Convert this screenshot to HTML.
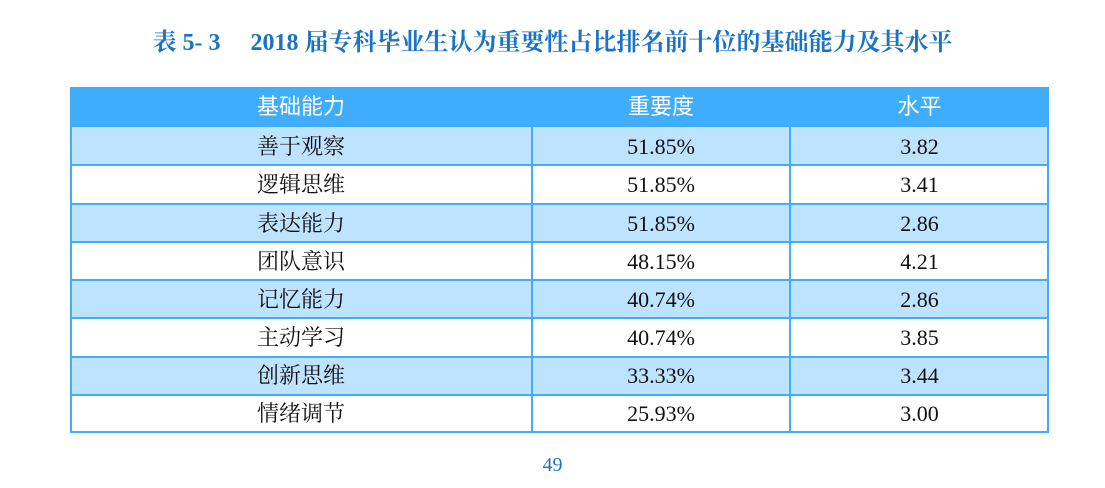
<!DOCTYPE html>
<html><head><meta charset="utf-8"><style>
body{margin:0;width:1105px;height:488px;background:#fff;position:relative;overflow:hidden;font-family:"Liberation Serif","Noto Serif CJK SC",serif}
.t{position:absolute;left:0;width:1105px;top:27px;text-align:center;color:#1a73c6;font-weight:bold;font-size:24px;line-height:32px}
.r{position:absolute;left:70px;width:979px;display:flex;box-sizing:border-box}
.r div{text-align:center;font-size:22px;color:#111;box-sizing:border-box}
.c1{width:462px}.c2{width:258px}.c3{width:259px}
.h{background:#3fadfc}
.h div{color:#fff;font-family:"Liberation Sans","Noto Sans CJK SC",sans-serif;font-size:22px}
.b{background:#bde3fe}
.vl{position:absolute;width:2px;background:#42adfb;top:127px;height:306px}
.hl{position:absolute;left:70px;width:979px;height:2px;background:#42adfb}
.p{position:absolute;left:0;width:1105px;top:454px;text-align:center;color:#1a73c6;font-size:20px}
</style></head><body>
<div class="t">表 5- 3　 2018 届专科毕业生认为重要性占比排名前十位的基础能力及其水平</div>
<div class="r h" style="top:87px;height:40px;line-height:40px"><div class="c1">基础能力</div><div class="c2">重要度</div><div class="c3">水平</div></div>
<div class="r b" style="top:127px;height:38px;line-height:40px"><div class="c1">善于观察</div><div class="c2">51.85%</div><div class="c3">3.82</div></div>
<div class="r" style="top:165px;height:38px;line-height:40px"><div class="c1">逻辑思维</div><div class="c2">51.85%</div><div class="c3">3.41</div></div>
<div class="r b" style="top:204px;height:38px;line-height:40px"><div class="c1">表达能力</div><div class="c2">51.85%</div><div class="c3">2.86</div></div>
<div class="r" style="top:242px;height:38px;line-height:40px"><div class="c1">团队意识</div><div class="c2">48.15%</div><div class="c3">4.21</div></div>
<div class="r b" style="top:280px;height:38px;line-height:40px"><div class="c1">记忆能力</div><div class="c2">40.74%</div><div class="c3">2.86</div></div>
<div class="r" style="top:318px;height:38px;line-height:40px"><div class="c1">主动学习</div><div class="c2">40.74%</div><div class="c3">3.85</div></div>
<div class="r b" style="top:356px;height:38px;line-height:40px"><div class="c1">创新思维</div><div class="c2">33.33%</div><div class="c3">3.44</div></div>
<div class="r" style="top:394px;height:38px;line-height:40px"><div class="c1">情绪调节</div><div class="c2">25.93%</div><div class="c3">3.00</div></div>
<div class="hl" style="top:164px"></div>
<div class="hl" style="top:203px"></div>
<div class="hl" style="top:241px"></div>
<div class="hl" style="top:279px"></div>
<div class="hl" style="top:317px"></div>
<div class="hl" style="top:356px"></div>
<div class="hl" style="top:394px"></div>
<div class="hl" style="top:431px"></div>
<div class="vl" style="left:70px"></div>
<div class="vl" style="left:531px"></div>
<div class="vl" style="left:789px"></div>
<div class="vl" style="left:1047px"></div>
<div class="p">49</div>
</body></html>
